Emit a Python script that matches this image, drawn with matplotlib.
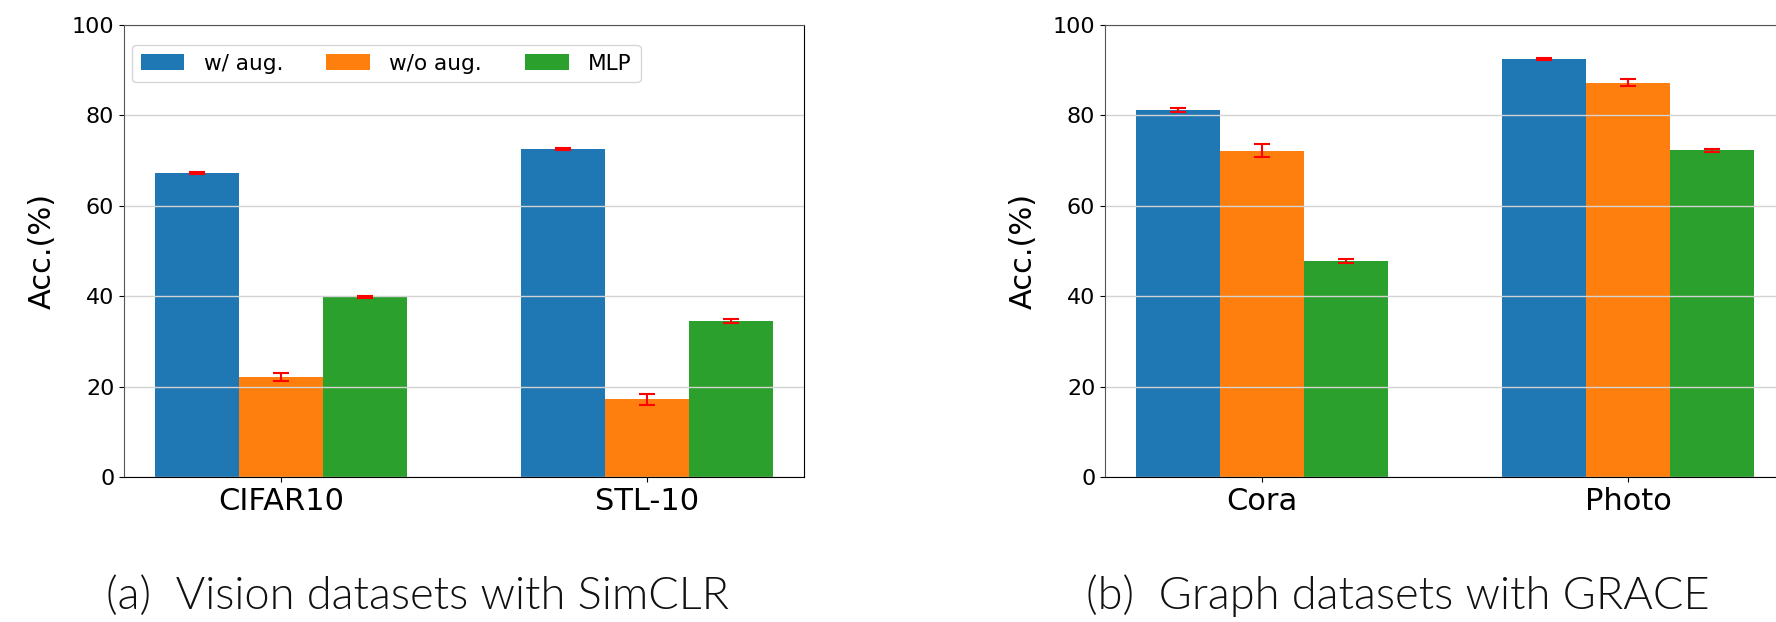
import numpy as np
import matplotlib
matplotlib.use('Agg')
import matplotlib.pyplot as plt

series = ['w/ aug.', 'w/o aug.', 'MLP']
colors = ['#1f77b4', '#ff7f0e', '#2ca02c']

vision_sets = ['CIFAR10', 'STL-10']
vision_aug = [67.2, 72.6]
vision_aug_err = [0.2, 0.2]
vision_noaug = [22.1, 17.2]
vision_noaug_err = [0.9, 1.2]
vision_mlp = [39.9, 34.5]
vision_mlp_err = [0.2, 0.5]

graph_sets = ['Cora', 'Photo']
graph_aug = [81.2, 92.5]
graph_aug_err = [0.4, 0.2]
graph_noaug = [72.2, 87.2]
graph_noaug_err = [1.5, 0.8]
graph_mlp = [47.8, 72.3]
graph_mlp_err = [0.5, 0.3]

captions = ['(a)  Vision datasets with SimCLR', '(b)  Graph datasets with GRACE']

W, H = 1776, 622
fig = plt.figure(figsize=(W / 100, H / 100), dpi=100)

def draw(ax, names, vals, errs, legend=False):
    x = np.arange(len(names))
    w = 0.23
    for i in range(3):
        ax.bar(x + (i - 1) * w, vals[i], w, yerr=errs[i], color=colors[i],
               label=series[i], ecolor='red', capsize=5.5,
               error_kw=dict(elinewidth=1.5, capthick=1.5))
    ax.set_ylim(0, 100)
    ax.set_yticks(range(0, 101, 20))
    ax.set_xticks(x)
    ax.set_xticklabels(names, fontsize=22)
    ax.tick_params(axis='y', labelsize=16)
    ax.set_ylabel('Acc.(%)', fontsize=22)
    ax.yaxis.set_label_coords(-0.099, 0.5)
    ax.grid(axis='y', color='lightgray', linewidth=1)
    ax.spines['left'].set_color('#555555')
    ax.spines['top'].set_color('#555555')
    if legend:
        ax.legend(loc='upper left', bbox_to_anchor=(0.012, 0.956), borderaxespad=0,
                  ncol=3, fontsize=15.6, columnspacing=2.0, handletextpad=0.9)

ax1 = fig.add_axes([124 / W, (H - 477) / H, 680 / W, 452 / H])
draw(ax1, vision_sets,
     [vision_aug, vision_noaug, vision_mlp],
     [vision_aug_err, vision_noaug_err, vision_mlp_err], legend=True)

ax2 = fig.add_axes([1105 / W, (H - 477) / H, 680 / W, 452 / H])
draw(ax2, graph_sets,
     [graph_aug, graph_noaug, graph_mlp],
     [graph_aug_err, graph_noaug_err, graph_mlp_err])

# captions under each panel (Lato Light)
fig.text(417 / W, 13 / H, captions[0], family='Lato', fontweight=300,
         fontsize=32.5, ha='center', va='baseline', color='#111111')
fig.text(1398 / W, 13 / H, captions[1], family='Lato', fontweight=300,
         fontsize=32.5, ha='center', va='baseline', color='#111111')

fig.savefig('out.png', dpi=100)
